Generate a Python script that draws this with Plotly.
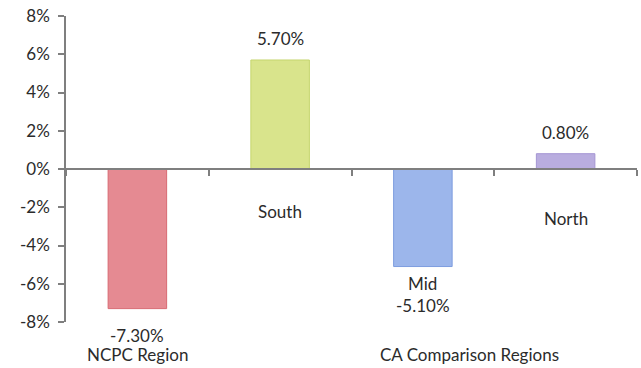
import plotly.graph_objects as go

categories = ["NCPC Region", "South", "Mid", "North"]
values = [-7.3, 5.7, -5.1, 0.8]
value_labels = ["-7.30%", "5.70%", "-5.10%", "0.80%"]
bar_colors = ["#e58a92", "#d9e48c", "#9cb6eb", "#b9addf"]
bar_edges = ["#d86a73", "#c5d56e", "#7d9ddf", "#a496d3"]
y_tick_values = [-8, -6, -4, -2, 0, 2, 4, 6, 8]
y_tick_labels = ["-8%", "-6%", "-4%", "-2%", "0%", "2%", "4%", "6%", "8%"]
axis_title = "CA Comparison Regions"

FONT = "Lato, 'Open Sans', sans-serif"
TXT = "#2b2b2b"
FS = 17

fig = go.Figure()
fig.add_trace(go.Bar(
    x=categories, y=values,
    marker=dict(color=bar_colors, line=dict(color=bar_edges, width=1)),
    width=0.41, showlegend=False, hoverinfo="skip",
))

ann = []
# value labels
for cat, v, lab in zip(categories, values, value_labels):
    if v >= 0:
        ann.append(dict(x=cat, y=v, text=lab, yanchor="bottom", yshift=9))
    elif cat == "Mid":
        ann.append(dict(x=cat, y=v, text=lab, yanchor="top", yshift=-26))
    else:
        ann.append(dict(x=cat, y=v, text=lab, yanchor="top", yshift=-14))
# category name labels
for cat, v in zip(categories, values):
    if cat == "NCPC Region":
        ann.append(dict(x=cat, y=v, text=cat, yanchor="top", yshift=-33))
    elif cat == "Mid":
        ann.append(dict(x=cat, y=v, text=cat, yanchor="top", yshift=-4))
    elif cat == "South":
        ann.append(dict(x=cat, y=0, text=cat, yanchor="top", yshift=-30))
    else:
        ann.append(dict(x=cat, y=0, text=cat, yanchor="top", yshift=-37))
for a in ann:
    a.update(xref="x", yref="y", showarrow=False, xanchor="center",
             font=dict(family=FONT, size=FS, color=TXT))
ann.append(dict(xref="paper", yref="paper", x=0.7075, y=-0.105, text=axis_title,
                showarrow=False, xanchor="center", yanchor="middle",
                font=dict(family=FONT, size=FS, color=TXT)))

fig.update_layout(
    width=641, height=368,
    margin=dict(l=66, r=4, t=16, b=46),
    paper_bgcolor="white", plot_bgcolor="white",
    font=dict(family=FONT, size=FS, color=TXT),
    annotations=ann,
    bargap=0.59,
)
fig.update_xaxes(
    type="category", anchor="free", position=0.5,
    showline=True, linecolor="#7f7f7f", linewidth=1.5,
    ticks="outside", tickson="boundaries", ticklen=6, tickcolor="#7f7f7f", tickwidth=1.5,
    showticklabels=False, showgrid=False, zeroline=False,
)
fig.update_yaxes(
    range=[-8, 8], tickvals=y_tick_values, ticktext=y_tick_labels,
    showline=True, linecolor="#7f7f7f", linewidth=1.5,
    ticks="outside", ticklen=6, tickcolor="#7f7f7f", tickwidth=1.5,
    ticklabelstandoff=5,
    showgrid=False, zeroline=False,
    tickfont=dict(family=FONT, size=FS, color=TXT),
)

fig.write_html("out.html")
